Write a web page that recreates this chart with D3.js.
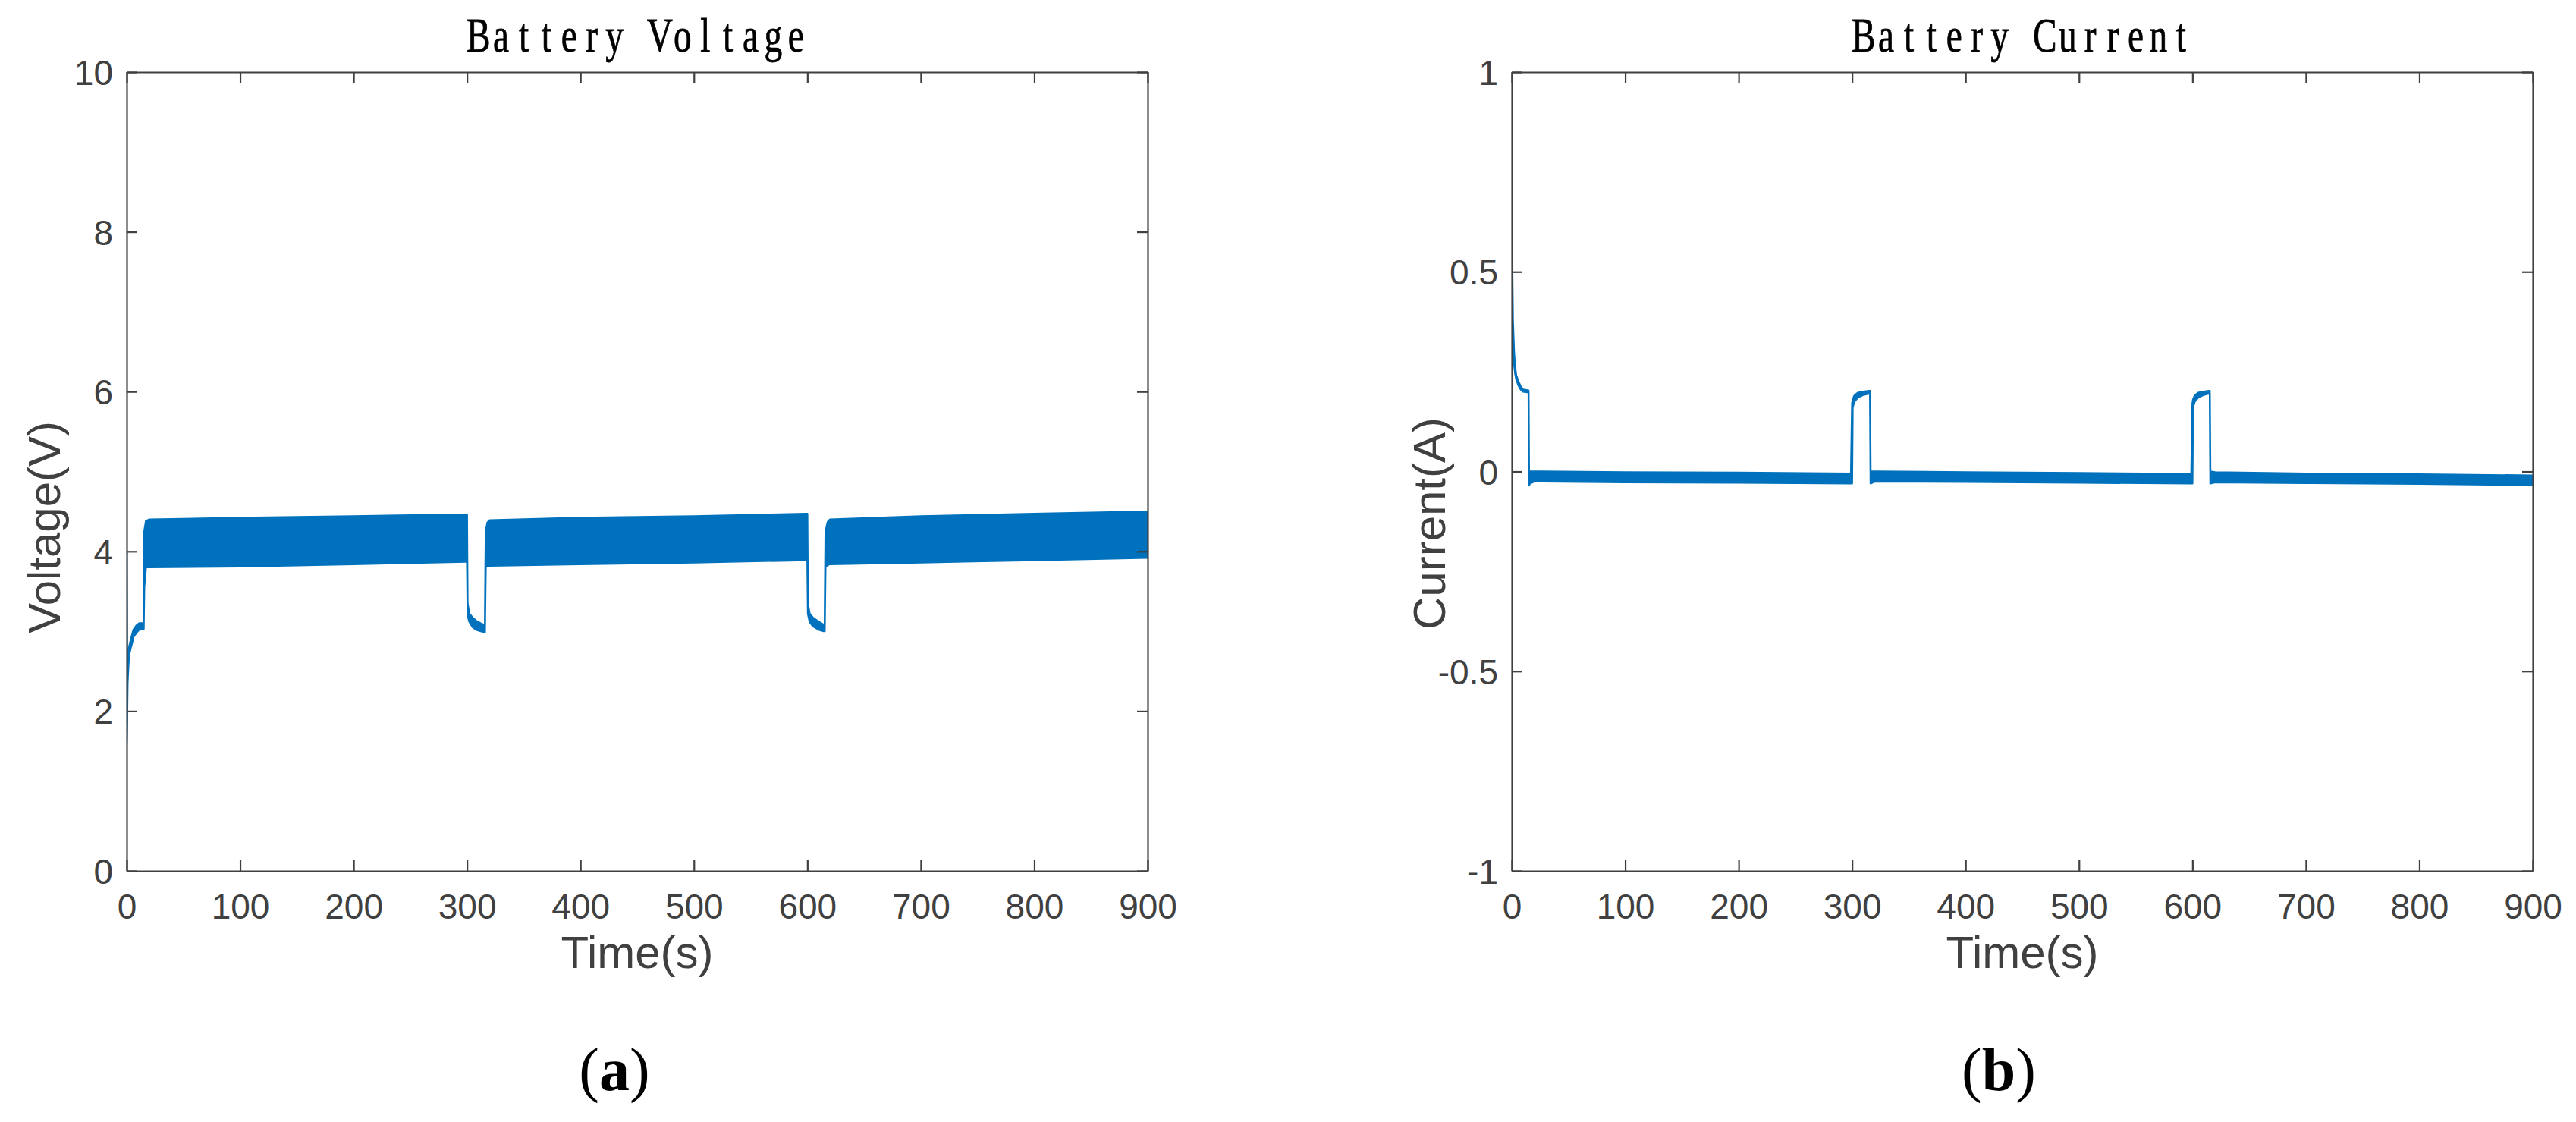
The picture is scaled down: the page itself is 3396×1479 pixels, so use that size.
<!DOCTYPE html>
<html><head><meta charset="utf-8">
<script src="https://cdn.jsdelivr.net/npm/d3@7"></script>
<style>body{margin:0;background:#fff} svg{display:block}</style>
</head><body>
<svg id="chart" width="3396" height="1479"></svg>
<script>
// ---- data ----
const timeTicks = [0,100,200,300,400,500,600,700,800,900];
const voltageTicks = [0,2,4,6,8,10];
const currentTicks = [-1,-0.5,0,0.5,1];

// Voltage: envelope of a densely oscillating signal (time, min, max)
const voltageTime = [0,0.4,0.8,1.5,2.1,3.4,4.7,6.0,8.5,11.1,14.4,15.0,15.5,17,20,100,200,299,
  300,300.5,302,305,308,312,315,315.8,316.5,318,320,400,500,599,
  600,600.5,602,605,610,614.5,615.3,616,618,620,700,800,900];
const voltageLow = [1.6,1.9,2.35,2.55,2.7,2.78,2.85,2.93,2.98,3.02,3.03,3.03,3.55,3.80,3.80,3.81,3.84,3.87,
  3.87,3.20,3.12,3.05,3.02,3.00,2.99,2.99,3.80,3.82,3.82,3.84,3.86,3.89,
  3.89,3.22,3.12,3.06,3.02,3.00,3.00,3.80,3.83,3.84,3.86,3.89,3.92];
const voltageHigh = [4.0,2.2,2.5,2.7,2.8,2.88,2.95,3.02,3.07,3.10,3.10,3.10,4.25,4.38,4.40,4.42,4.44,4.46,
  4.46,3.35,3.22,3.17,3.13,3.10,3.08,3.08,4.25,4.36,4.39,4.42,4.44,4.47,
  4.47,3.35,3.22,3.17,3.12,3.08,3.08,4.25,4.37,4.40,4.44,4.47,4.50];

// Current: envelope (time, min, max)
const currentTime = [0,0.3,0.6,1,2,3,4,6,8,10,14.8,15.2,16,20,100,200,299,
  300,300.5,302,305,310,315,315.8,316.3,320,400,500,599,
  600,600.5,602,605,610,614.5,615.3,615.8,620,700,800,900];
const currentLow = [0.0,0.50,0.40,0.33,0.27,0.245,0.23,0.215,0.205,0.200,0.198,-0.035,-0.03,-0.025,-0.027,-0.028,-0.030,
  -0.030,0.160,0.175,0.185,0.192,0.195,0.195,-0.030,-0.025,-0.026,-0.028,-0.030,
  -0.030,0.160,0.175,0.185,0.192,0.195,0.195,-0.030,-0.027,-0.029,-0.031,-0.034];
const currentHigh = [0.62,0.57,0.48,0.38,0.30,0.26,0.24,0.225,0.212,0.205,0.203,0.0,0.0,0.0,-0.002,-0.003,-0.005,
  0.170,0.180,0.190,0.197,0.200,0.202,0.202,0.0,0.0,-0.002,-0.004,-0.006,
  0.170,0.180,0.190,0.197,0.200,0.202,0.202,0.0,-0.002,-0.005,-0.007,-0.010];

const titles = ["Battery Voltage","Battery Current"];
const yLabels = ["Voltage(V)","Current(A)"];
const xLabel = "Time(s)";
const captions = ["a","b"];

// ---- drawing ----
const svg = d3.select("#chart");
const AX = "#404040", LINE = "#0072BD";
const panels = [
  {left:167, right:1513, top:95, bottom:1148, yDomain:[0,10], yTicks:voltageTicks,
   t:voltageTime, lo:voltageLow, hi:voltageHigh, title:titles[0], ylab:yLabels[0], cap:captions[0], capX:810, ylabY:695},
  {left:1993, right:3339, top:95, bottom:1148, yDomain:[-1,1], yTicks:currentTicks,
   t:currentTime, lo:currentLow, hi:currentHigh, title:titles[1], ylab:yLabels[1], cap:captions[1], capX:2635, ylabY:690}
];

panels.forEach((p,i) => {
  const x = d3.scaleLinear().domain([0,900]).range([p.left,p.right]);
  const y = d3.scaleLinear().domain(p.yDomain).range([p.bottom,p.top]);
  const data = p.t.map((t,k)=>({t, lo:p.lo[k], hi:p.hi[k]}));

  const clipId = "clip"+i;
  svg.append("clipPath").attr("id",clipId).append("rect")
    .attr("x",p.left).attr("y",p.top).attr("width",p.right-p.left).attr("height",p.bottom-p.top);

  const area = d3.area().x(d=>x(d.t)).y0(d=>y(d.lo)).y1(d=>y(d.hi));
  svg.append("path").datum(data).attr("clip-path",`url(#${clipId})`)
    .attr("d",area).attr("fill",LINE).attr("stroke",LINE).attr("stroke-width",2.5)
    .attr("stroke-linejoin","round");

  const styleAxis = g => {
    g.select(".domain").attr("stroke",AX).attr("stroke-width",2.2);
    g.selectAll(".tick line").attr("stroke",AX).attr("stroke-width",2.2);
    g.selectAll("text").attr("fill",AX).attr("font-family","'Liberation Sans',Arial,sans-serif").attr("font-size",46);
  };
  // bottom
  svg.append("g").attr("transform",`translate(0,${p.bottom})`)
    .call(d3.axisBottom(x).tickValues(timeTicks).tickSize(-14).tickSizeOuter(0).tickFormat(d=>String(d)))
    .call(styleAxis)
    .call(g=>g.selectAll("text").attr("y",63).attr("dy",null));
  // top
  svg.append("g").attr("transform",`translate(0,${p.top})`)
    .call(d3.axisTop(x).tickValues(timeTicks).tickSize(-14).tickSizeOuter(0).tickFormat(""))
    .call(styleAxis);
  // left
  svg.append("g").attr("transform",`translate(${p.left},0)`)
    .call(d3.axisLeft(y).tickValues(p.yTicks).tickSize(-14).tickSizeOuter(0).tickPadding(18).tickFormat(d=>String(d)))
    .call(styleAxis)
    .call(g=>g.selectAll("text").attr("dy","0.36em"));
  // right
  svg.append("g").attr("transform",`translate(${p.right},0)`)
    .call(d3.axisRight(y).tickValues(p.yTicks).tickSize(-14).tickSizeOuter(0).tickFormat(""))
    .call(styleAxis);

  const cx = (p.left+p.right)/2;
  // title, spaced monospace-like serif
  const chars = Array.from(p.title);
  const adv = 29.9, start = cx - adv*chars.length/2;
  const tg = svg.append("g");
  chars.forEach((c,k)=>{
    tg.append("text").attr("transform",`translate(${start+adv*k+adv/2},68) scale(0.74,1)`)
      .attr("text-anchor","middle").attr("font-family","'Liberation Serif','Times New Roman',serif")
      .attr("font-size",64).attr("stroke","#000").attr("stroke-width",0.8).attr("fill","#000").text(c);
  });

  // x label
  svg.append("text").attr("x",cx).attr("y",1276).attr("text-anchor","middle")
    .attr("font-family","'Liberation Sans',Arial,sans-serif").attr("font-size",60).attr("fill",AX).text(xLabel);
  // y label
  svg.append("text").attr("transform",`translate(${p.left-88},${p.ylabY}) rotate(-90)`)
    .attr("text-anchor","middle")
    .attr("font-family","'Liberation Sans',Arial,sans-serif").attr("font-size",60).attr("fill",AX).text(p.ylab);
  // caption
  const cap = svg.append("text").attr("x",p.capX).attr("y",1437).attr("text-anchor","middle")
    .attr("font-family","'Liberation Serif','Times New Roman',serif").attr("font-size",80).attr("fill","#000");
  cap.append("tspan").text("(");
  cap.append("tspan").attr("font-weight","bold").text(p.cap);
  cap.append("tspan").text(")");
});
</script>
</body></html>
